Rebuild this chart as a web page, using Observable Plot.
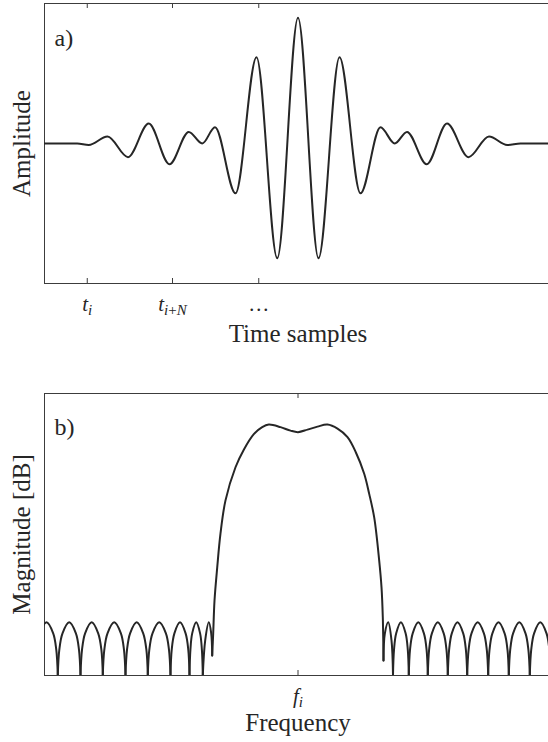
<!DOCTYPE html>
<html>
<head>
<meta charset="utf-8">
<script src="https://cdn.jsdelivr.net/npm/d3@7"></script>
<script src="https://cdn.jsdelivr.net/npm/@observablehq/plot@0.6"></script>
<style>
  html, body { margin: 0; padding: 0; background: #ffffff; }
  #chart { width: 548px; }
  #chart svg { display: block; }
</style>
</head>
<body>
<div id="chart"></div>
<script>
// ---------------- DATA ----------------
// Panel a: wavelet extrema (time in arbitrary sample units, amplitude normalised)
const timeT   = [-102, -88.3, -83.7, -76.2, -68.0, -59.7, -51.4, -43.7, -38.3, -33.2, -25.0, -16.6, -8.3, 0.0,
                 8.2, 16.6, 25.0, 33.0, 38.7, 43.6, 51.5, 59.6, 68.2, 76.4, 83.7, 89.0, 102];
const timeAmp = [0.0, 0.0, -0.012, 0.056, -0.109, 0.160, -0.166, 0.093, 0.0, 0.130, -0.398, 0.690, -0.918, 1.006,
                 -0.918, 0.690, -0.398, 0.130, 0.0, 0.093, -0.166, 0.160, -0.109, 0.056, -0.012, 0.0, 0.0];
const timeTicks = [-84.3, -50.2, -15.7];
const timeTickLabels = [
  [{t: "t", it: true}, {t: "i", it: true, sub: true}],
  [{t: "t", it: true}, {t: "i", it: true, sub: true}, {t: "+", sub: true}, {t: "N", it: true, sub: true}],
  [{t: "\u2026"}]
];

// Panel b: magnitude spectrum in dB
const sideLobeLevels = [-50, -44.9, -41.6, -39.4, -41.6, -44.9, -50];
const leftSideLobes = [
  [-105.12, -104.52, -103.28, -100.6, -97.92, -96.68, -96.08],
  [-96.08, -95.48, -94.2, -91.52, -88.84, -87.6, -87.0],
  [-87.0, -86.4, -85.16, -82.52, -79.92, -78.64, -78.08],
  [-78.08, -77.48, -76.2, -73.52, -70.84, -69.6, -69.0],
  [-69.0, -68.4, -67.16, -64.52, -61.92, -60.64, -60.08],
  [-60.08, -59.48, -58.2, -55.52, -52.84, -51.6, -51.0],
  [-51.0, -50.52, -49.44, -47.2, -44.96, -43.88, -43.4],
  [-43.4, -43.04, -42.32, -40.72, -39.16, -38.44, -38.08]
];
const rightSideLobes = [
  [38.0, 38.4, 39.28, 41.16, 43.04, 43.92, 44.32],
  [44.32, 44.8, 45.88, 48.12, 50.36, 51.44, 51.92],
  [51.92, 52.44, 53.56, 55.92, 58.28, 59.4, 59.92],
  [59.92, 60.44, 61.52, 63.8, 66.08, 67.16, 67.68],
  [67.68, 68.24, 69.4, 71.88, 74.36, 75.52, 76.08],
  [76.08, 76.6, 77.76, 80.2, 82.64, 83.8, 84.32],
  [84.32, 84.88, 86.04, 88.52, 91.0, 92.16, 92.72],
  [92.72, 93.28, 94.44, 96.92, 99.4, 100.56, 101.12]
];
const leftSmallLobeF  = [-38.08, -37.12, -35.68, -34.72, -34.32];
const leftSmallLobeDb = [-50, -43.0, -39.4, -41.6, -46.0];
const rightSmallLobeF  = [34.2, 34.72, 36.08, 37.4, 38.0];
const rightSmallLobeDb = [-47.0, -41.7, -39.4, -43.0, -50];
const mainLobeF  = [-34.32, -33.92, -33.4, -32.32, -31.0, -29.0, -25.0, -21.68, -17.68, -14.32, -11.68, -7.0, -3.0, 0,
                    3.8, 7.8, 11.8, 15.8, 19.8, 23.12, 26.48, 28.48, 30.48, 32.48, 33.4, 33.92, 34.2];
const mainLobeDb = [-46.0, -41.6, -35.1, -28.5, -21.7, -15.1, -8.5, -5.0, -1.9, -0.5, 0.0, -0.5, -1.2, -1.5,
                    -1.0, -0.4, 0.0, -0.8, -2.5, -5.5, -9.8, -13.8, -18.5, -27.1, -32.4, -38.4, -47.0];
const freqTicks = [0];
const freqTickLabels = [
  [{t: "f", it: true}, {t: "i", it: true, sub: true}]
];

// ---------------- build tables ----------------
const timeSeries = timeT.map((t, i) => ({t, a: timeAmp[i]}));
const specRows = [];
let seg = 0;
for (const lobe of [...leftSideLobes, ...rightSideLobes]) {
  lobe.forEach((f, i) => specRows.push({seg, f, db: sideLobeLevels[i]}));
  seg++;
}
leftSmallLobeF.forEach((f, i) => specRows.push({seg, f, db: leftSmallLobeDb[i]})); seg++;
rightSmallLobeF.forEach((f, i) => specRows.push({seg, f, db: rightSmallLobeDb[i]})); seg++;
mainLobeF.forEach((f, i) => specRows.push({seg, f, db: mainLobeDb[i]})); seg++;

// ---------------- styling ----------------
const FONT = "'Liberation Serif', 'DejaVu Serif', serif";
const ink = "#262626";
const frameInk = "#3c3c3c";
const xDomain = [-101.4, 100.2];
const W = 548;
const TICK = 5;

const plainText = parts => parts.map(p => p.t).join("");

function frameMarks(yDomain, ticks, innerH) {
  return [
    Plot.ruleX([xDomain[0]], {stroke: frameInk, strokeWidth: 1}),
    Plot.ruleY(yDomain, {stroke: frameInk, strokeWidth: 1}),
    Plot.tickX(ticks, {x: d => d, stroke: frameInk, strokeWidth: 1, insetTop: innerH - TICK}),
    Plot.tickX(ticks, {x: d => d, stroke: frameInk, strokeWidth: 1, insetBottom: innerH - TICK})
  ];
}

// ---------------- panel a ----------------
const aH = 360, aTop = 3, aBottom = 77;
const aYDomain = [-1.12, 1.12];
const plotA = Plot.plot({
  width: W, height: aH,
  marginTop: aTop, marginBottom: aBottom, marginLeft: 44, marginRight: 0,
  x: {domain: xDomain, axis: null},
  y: {domain: aYDomain, axis: null},
  style: {fontFamily: FONT, background: "#ffffff", color: ink, overflow: "visible"},
  marks: [
    ...frameMarks(aYDomain, timeTicks, aH - aTop - aBottom),
    Plot.line(timeSeries, {x: "t", y: "a", curve: "monotone-x", stroke: ink, strokeWidth: 2, clip: true}),
    Plot.text(timeTickLabels, {x: (d, i) => timeTicks[i], frameAnchor: "bottom", dy: 27, lineAnchor: "bottom",
      text: d => plainText(d), fontSize: 21, fill: ink}),
    Plot.text(["Time samples"], {x: () => 0, frameAnchor: "bottom", dy: 58.5, lineAnchor: "bottom",
      text: d => d, fontSize: 25, fill: ink}),
    Plot.text(["Amplitude"], {frameAnchor: "left", rotate: -90, dx: -15, lineAnchor: "bottom", textAnchor: "middle",
      text: d => d, fontSize: 25, fill: ink}),
    Plot.text(["a)"], {frameAnchor: "top-left", dx: 10, dy: 42, lineAnchor: "bottom", textAnchor: "start",
      text: d => d, fontSize: 24, fill: ink})
  ]
});

// ---------------- panel b ----------------
const bH = 382, bTop = 33, bBottom = 67;
const bYDomain = [-50, 6.2];
const plotB = Plot.plot({
  width: W, height: bH,
  marginTop: bTop, marginBottom: bBottom, marginLeft: 44, marginRight: 0,
  x: {domain: xDomain, axis: null},
  y: {domain: bYDomain, axis: null},
  style: {fontFamily: FONT, background: "#ffffff", color: ink, overflow: "visible"},
  marks: [
    ...frameMarks(bYDomain, freqTicks, bH - bTop - bBottom),
    Plot.line(specRows, {x: "f", y: "db", z: "seg", curve: "catmull-rom", stroke: ink, strokeWidth: 2, clip: true}),
    Plot.text(freqTickLabels, {x: (d, i) => freqTicks[i], frameAnchor: "bottom", dy: 27, lineAnchor: "bottom",
      text: d => plainText(d), fontSize: 21, fill: ink}),
    Plot.text(["Frequency"], {x: () => 0, frameAnchor: "bottom", dy: 55, lineAnchor: "bottom",
      text: d => d, fontSize: 25, fill: ink}),
    Plot.text(["Magnitude [dB]"], {frameAnchor: "left", rotate: -90, dx: -15, lineAnchor: "bottom", textAnchor: "middle",
      text: d => d, fontSize: 25, fill: ink}),
    Plot.text(["b)"], {frameAnchor: "top-left", dx: 10, dy: 41, lineAnchor: "bottom", textAnchor: "start",
      text: d => d, fontSize: 24, fill: ink})
  ]
});

// ---------------- rich (italic / subscript) tick labels ----------------
const SVGNS = "http://www.w3.org/2000/svg";
function enrich(svg, labels) {
  const texts = Array.from(svg.querySelectorAll("text"));
  for (const parts of labels) {
    const s = plainText(parts);
    const el = texts.find(t => t.textContent === s && !t.dataset.done);
    if (!el) continue;
    el.dataset.done = "1";
    while (el.firstChild) el.removeChild(el.firstChild);
    let inSub = false;
    for (const p of parts) {
      const ts = document.createElementNS(SVGNS, "tspan");
      ts.textContent = p.t;
      if (p.it) ts.setAttribute("font-style", "italic");
      if (p.sub) {
        ts.setAttribute("font-size", "15");
        if (!inSub) { ts.setAttribute("dy", "4"); inSub = true; }
      }
      el.appendChild(ts);
    }
  }
}
enrich(plotA, timeTickLabels);
enrich(plotB, freqTickLabels);

const chart = document.getElementById("chart");
chart.appendChild(plotA);
chart.appendChild(plotB);
</script>
</body>
</html>
